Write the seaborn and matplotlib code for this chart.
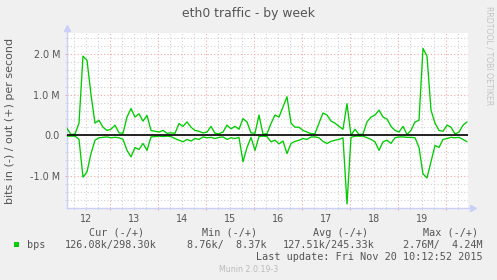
import numpy as np
import pandas as pd
import matplotlib
matplotlib.use("Agg")
import matplotlib.pyplot as plt
import matplotlib.dates as mdates
import matplotlib.ticker as mticker
from matplotlib.patches import Rectangle
import seaborn as sns

# ---- data (Mbit/s), one sample every 2 hours ----
start_time = "2015-11-12 02:30"
step = "2h"
out_mbps = [0.17, 0.02, 0.03, 0.30, 1.95, 1.85, 1.00, 0.30, 0.37, 0.20,
            0.12, 0.15, 0.25, 0.06, 0.05, 0.45, 0.66, 0.45, 0.53, 0.35,
            0.49, 0.12, 0.10, 0.08, 0.12, 0.05, 0.06, 0.05, 0.29, 0.22,
            0.33, 0.20, 0.12, 0.10, 0.06, 0.08, 0.22, 0.05, 0.04, 0.08,
            0.25, 0.16, 0.22, 0.15, 0.41, 0.33, 0.06, 0.05, 0.50, 0.03,
            0.04, 0.29, 0.50, 0.45, 0.70, 0.95, 0.30, 0.20, 0.20, 0.12,
            0.08, 0.04, 0.04, 0.30, 0.55, 0.50, 0.35, 0.30, 0.22, 0.15,
            0.78, 0.00, 0.15, 0.02, 0.03, 0.33, 0.45, 0.50, 0.62, 0.45,
            0.40, 0.22, 0.12, 0.08, 0.22, 0.02, 0.12, 0.33, 0.37, 2.14,
            1.95, 0.62, 0.30, 0.12, 0.10, 0.25, 0.20, 0.03, 0.08, 0.25, 0.33]
in_mbps = [0.02, 0.02, 0.02, 0.10, 1.03, 0.90, 0.45, 0.12, 0.06, 0.05,
           0.04, 0.06, 0.05, 0.06, 0.10, 0.37, 0.53, 0.30, 0.35, 0.20,
           0.37, 0.04, 0.03, 0.02, 0.03, 0.02, 0.03, 0.08, 0.12, 0.16,
           0.10, 0.14, 0.08, 0.10, 0.04, 0.06, 0.05, 0.08, 0.05, 0.04,
           0.10, 0.06, 0.08, 0.05, 0.65, 0.30, 0.05, 0.37, 0.03, 0.02,
           0.03, 0.16, 0.12, 0.21, 0.14, 0.45, 0.20, 0.15, 0.12, 0.08,
           0.10, 0.04, 0.04, 0.06, 0.15, 0.20, 0.15, 0.12, 0.10, 0.06,
           1.69, 0.05, 0.02, 0.02, 0.02, 0.06, 0.10, 0.16, 0.37, 0.16,
           0.12, 0.20, 0.06, 0.04, 0.04, 0.05, 0.05, 0.06, 0.30, 0.95,
           1.05, 0.65, 0.25, 0.30, 0.10, 0.08, 0.05, 0.06, 0.05, 0.10, 0.16]

legend_headers = ["Cur (-/+)", "Min (-/+)", "Avg (-/+)", "Max (-/+)"]
legend_values = ["126.08k/298.30k", "8.76k/  8.37k", "127.51k/245.33k", "2.76M/  4.24M"]
series_name = "bps"
title = "eth0 traffic - by week"
ylabel = "bits in (-) / out (+) per second"
last_update = "Last update: Fri Nov 20 10:12:52 2015"
footer = "Munin 2.0.19-3"
side_text = "RRDTOOL / TOBI OETIKER"
x_start = "2015-11-12 02:30"
x_end = "2015-11-20 11:00"

n = len(out_mbps)
times = pd.date_range(start_time, periods=n, freq=step)
df = pd.DataFrame({
    "time": list(times) + list(times),
    "value": list(out_mbps) + [-v for v in in_mbps],
    "dir": ["out"] * n + ["in"] * n,
})

sns.set_style("white")
plt.rcParams["font.family"] = ["DejaVu Sans"]

W, H = 497, 280
fig = plt.figure(figsize=(W / 100, H / 100), dpi=100, facecolor="#F0F0F0")
ax = fig.add_axes([67 / W, (H - 208) / H, 401 / W, 175 / H])
ax.set_facecolor("white")

GREEN = "#00CC00"
sns.lineplot(data=df, x="time", y="value", hue="dir",
             palette={"out": GREEN, "in": GREEN}, legend=False,
             estimator=None, lw=0.95, ax=ax, zorder=3)
ax.axhline(0, color="black", lw=1.2, zorder=4)

ax.set_xlim(pd.Timestamp(x_start), pd.Timestamp(x_end))
ax.set_ylim(-1.79, 2.52)

# x ticks: midnight (red grid), 6h (gray grid), day labels at noon
ax.xaxis.set_major_locator(mdates.DayLocator())
ax.xaxis.set_major_formatter(mticker.NullFormatter())
ax.xaxis.set_minor_locator(mdates.HourLocator(byhour=[6, 12, 18]))

def day_fmt(v, pos):
    d = mdates.num2date(v)
    return str(d.day) if d.hour == 12 else ""

ax.xaxis.set_minor_formatter(mticker.FuncFormatter(day_fmt))

ax.yaxis.set_major_locator(mticker.MultipleLocator(1.0))
ax.yaxis.set_minor_locator(mticker.MultipleLocator(0.2))
ax.yaxis.set_major_formatter(mticker.FuncFormatter(
    lambda v, p: "0.0" if abs(v) < 1e-9 else f"{v:.1f} M"))

ax.grid(which="major", color="#F2A8A8", linestyle=(0, (1, 2)), lw=0.8, zorder=1)
ax.grid(which="minor", color="#D0D0D0", linestyle=(0, (1, 2)), lw=0.8, zorder=1)

LBL = "#555555"
ax.tick_params(axis="y", which="major", length=1.5, pad=3.5, labelsize=6.9,
               labelcolor=LBL, color="#F2A8A8", left=True)
ax.tick_params(axis="y", which="minor", length=1.5, color="#D0D0D0", left=True)
ax.tick_params(axis="x", which="major", length=1.5, color="#F2A8A8", bottom=True)
ax.tick_params(axis="x", which="minor", length=1.5, pad=2.5, labelsize=6.9,
               labelcolor=LBL, color="#D0D0D0", bottom=True)
ax.set_xlabel("")
ax.set_ylabel("")

AX = "#C8D0F8"
for s in ["top", "right"]:
    ax.spines[s].set_visible(False)
for s in ["left", "bottom"]:
    ax.spines[s].set_color(AX)
    ax.spines[s].set_linewidth(1.0)
ax.plot([1.0, 1.012], [0, 0], color=AX, lw=1.0, transform=ax.transAxes, clip_on=False)
ax.plot([1.012], [0], marker=">", ms=4, color=AX, transform=ax.transAxes, clip_on=False)
ax.plot([0, 0], [1.0, 1.028], color=AX, lw=1.0, transform=ax.transAxes, clip_on=False)
ax.plot([0], [1.028], marker="^", ms=4, color=AX, transform=ax.transAxes, clip_on=False)

def fx(x):
    return x / W

def fy(y):
    return 1 - y / H

fig.text(fx(248), fy(14), title, ha="center", va="center", fontsize=8.9, color=LBL)
fig.text(fx(10.5), fy(120.5), ylabel, ha="center", va="center", rotation=90,
         fontsize=8, color=LBL)
fig.text(fx(488.5), fy(6), side_text, ha="center", va="top", rotation=270,
         fontsize=5.6, color="#C4C4C4")

MONO = "DejaVu Sans Mono"
ms = 7.3
for xh, t in zip([89, 202, 313, 423], legend_headers):
    fig.text(fx(xh), fy(232.5), t, ha="left", va="center", fontsize=ms,
             family=MONO, color=LBL)
fig.add_artist(Rectangle((fx(14), fy(247)), 5 / W, 5 / H, transform=fig.transFigure,
                         facecolor=GREEN, edgecolor="none"))
fig.text(fx(27), fy(245), series_name, ha="left", va="center", fontsize=ms,
         family=MONO, color=LBL)
for xv, t in zip([157, 267, 375, 483], legend_values):
    fig.text(fx(xv), fy(245), t, ha="right", va="center", fontsize=ms,
             family=MONO, color=LBL)
fig.text(fx(483), fy(256.5), last_update, ha="right", va="center", fontsize=ms,
         family=MONO, color=LBL)
fig.text(fx(249), fy(269.5), footer, ha="center", va="center", fontsize=5.7,
         color="#BBBBBB")

fig.savefig("out.png", dpi=100, facecolor=fig.get_facecolor())
